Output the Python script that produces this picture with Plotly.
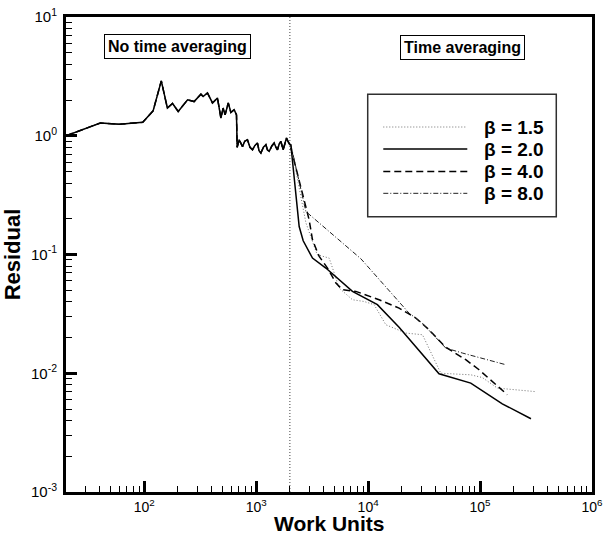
import plotly.graph_objects as go

# ---- data ----
common_x = [20, 40.5, 60, 97, 120, 142, 161, 179, 201, 244, 279, 321, 336, 367, 407, 451,
            484, 507, 528, 563, 594, 636, 667, 676, 705, 730, 755, 790, 836, 880, 927, 975,
            1027, 1060, 1102, 1160, 1221, 1260, 1307, 1380, 1448, 1500, 1550, 1610, 1662,
            1742, 1800, 1865, 1920, 2000]
common_y = [1.0, 1.28, 1.25, 1.30, 1.62, 2.9, 1.71, 1.87, 1.60, 2.01, 1.94, 2.24, 2.14, 2.29,
            1.89, 2.08, 1.41, 1.71, 1.50, 1.89, 1.57, 1.66, 1.50, 0.80, 0.925, 0.86, 0.81,
            0.90, 0.925, 0.80, 0.762, 0.83, 0.868, 0.75, 0.715, 0.80, 0.84, 0.76, 0.738,
            0.82, 0.868, 0.80, 0.762, 0.86, 0.895, 0.762, 0.85, 0.956, 0.90, 0.84]

b15_x = [2040, 2780, 3509, 4488, 4970, 5505, 7244, 9210, 11320, 14400, 21700, 30600,
         44600, 82600, 104800, 142800, 314000]
b15_y = [0.84, 0.185, 0.0995, 0.0933, 0.0702, 0.0522, 0.0416, 0.0402, 0.0378, 0.0256,
         0.0218, 0.0211, 0.0100, 0.0097, 0.0092, 0.0075, 0.0070]

b20_x = [2040, 2421, 2630, 3184, 4190, 7244, 12100, 18900, 43000, 82600, 158000, 285000]
b20_y = [0.84, 0.172, 0.1305, 0.0933, 0.0769, 0.0489, 0.0378, 0.0244, 0.0099, 0.00826,
         0.00553, 0.00414]

b40_x = [2094, 2972, 3185, 3654, 4335, 5156, 5908, 7767, 12530, 18900, 26670, 35060,
         48700, 74500, 98000, 138000, 175000]
b40_y = [0.719, 0.196, 0.133, 0.0964, 0.0769, 0.0575, 0.0505, 0.0489, 0.0416, 0.0354,
         0.0292, 0.0232, 0.0167, 0.013, 0.0107, 0.0080, 0.0066]

b80_x = [2040, 2780, 8610, 23200, 30300, 49400, 69500, 169800]
b80_y = [0.84, 0.230, 0.0921, 0.0321, 0.0266, 0.0163, 0.0148, 0.0118]

switch_x = [2000, 2000]
switch_y = [1e-3, 1e1]

labels = ["β = 1.5", "β = 2.0", "β = 4.0", "β = 8.0"]

x_major_exp = [2, 3, 4, 5, 6]
y_major_exp = [-3, -2, -1, 0, 1]
x_major = [10.0 ** e for e in x_major_exp]
y_major = [10.0 ** e for e in y_major_exp]
x_major_text = ["10<sup>%d</sup>" % e for e in x_major_exp]
y_major_text = ["10<sup>%d</sup>" % e for e in y_major_exp]
x_minor = [m * 10.0 ** e for e in [1, 2, 3, 4, 5] for m in range(2, 10) if m * 10.0 ** e >= 20]
y_minor = [m * 10.0 ** e for e in [-3, -2, -1, 0] for m in range(2, 10)]

X_RANGE = [1.30103, 6]
Y_RANGE = [-3, 1]

FONT = "Liberation Sans, Arial, Helvetica, sans-serif"

styles = {
    "β = 1.5": dict(color="#707070", width=1, dash="1px,2px"),
    "β = 2.0": dict(color="black", width=1.5, dash="solid"),
    "β = 4.0": dict(color="black", width=1.5, dash="7px,4px"),
    "β = 8.0": dict(color="#202020", width=1, dash="5px,2px,1px,2px"),
}
series = {
    "β = 1.5": (b15_x, b15_y),
    "β = 2.0": (b20_x, b20_y),
    "β = 4.0": (b40_x, b40_y),
    "β = 8.0": (b80_x, b80_y),
}

fig = go.Figure()

fig.add_trace(go.Scatter(x=switch_x, y=switch_y, mode="lines", showlegend=False,
                         line=dict(color="#404040", width=1, dash="1px,2px"),
                         hoverinfo="skip"))

for name in ["β = 1.5", "β = 4.0", "β = 8.0", "β = 2.0"]:
    bx, by = series[name]
    fig.add_trace(go.Scatter(x=common_x + bx, y=common_y + by, mode="lines",
                             name=name, showlegend=False, line=styles[name]))

# invisible trace to make the minor-tick overlay axes render
fig.add_trace(go.Scatter(x=[100], y=[1], xaxis="x2", yaxis="y2", mode="markers",
                         marker=dict(opacity=0), showlegend=False, hoverinfo="skip"))

# ---- manual legend (box with long line samples) ----
L_x0, L_x1, L_y0, L_y1 = 0.5736, 0.9321, 0.5796, 0.8373
fig.add_shape(type="rect", xref="paper", yref="paper", x0=L_x0, x1=L_x1, y0=L_y0, y1=L_y1,
              line=dict(color="#303030", width=1.5), fillcolor="white", layer="above")
row_y = [0.7684, 0.7221, 0.6747, 0.6288]
for name, ry in zip(labels, row_y):
    fig.add_shape(type="line", xref="paper", yref="paper", x0=0.6032, x1=0.7629,
                  y0=ry, y1=ry, line=styles[name], layer="above")
    fig.add_annotation(xref="paper", yref="paper", x=0.7903, y=ry, text="<b>" + name + "</b>",
                       showarrow=False, xanchor="left", yanchor="middle",
                       font=dict(family=FONT, size=19, color="black"))

# ---- boxed region labels ----
for txt, ax_, ay_ in [("No time averaging", 0.2129, 0.9381), ("Time averaging", 0.7534, 0.9368)]:
    fig.add_annotation(xref="paper", yref="paper", x=ax_, y=ay_, text="<b>" + txt + "</b>",
                       showarrow=False, xanchor="center", yanchor="middle",
                       bordercolor="black", borderwidth=1, borderpad=3, bgcolor="white",
                       font=dict(family=FONT, size=16, color="black"))

# ---- x axis title (placed below the tick labels) ----
fig.add_annotation(xref="paper", yref="paper", x=0.5, y=-0.067, text="<b>Work Units</b>",
                   showarrow=False, xanchor="center", yanchor="middle",
                   font=dict(family=FONT, size=21, color="black"))

axis_common = dict(
    type="log", showline=True, linecolor="black", linewidth=3, mirror=True,
    showgrid=False, zeroline=False, ticks="inside", ticklen=11, tickwidth=2.5,
    tickcolor="black", automargin=False,
    tickfont=dict(family=FONT, size=14, color="black"),
)
minor_common = dict(
    type="log", showline=False, showgrid=False, zeroline=False, ticks="inside",
    ticklen=6, tickwidth=1, tickcolor="black", showticklabels=False, automargin=False,
)

fig.update_layout(
    width=606, height=536,
    margin=dict(l=66, r=14, t=17, b=44),
    paper_bgcolor="white", plot_bgcolor="white",
    font=dict(family=FONT, color="black"),
    showlegend=False,
    xaxis=dict(axis_common, range=X_RANGE, tickvals=x_major, ticktext=x_major_text,
               ticklabelstandoff=0),
    yaxis=dict(axis_common, range=Y_RANGE, tickvals=y_major, ticktext=y_major_text,
               ticklabelstandoff=3, tickfont=dict(family=FONT, size=15, color="black"),
               title=dict(text="<b>Residual</b>", standoff=5,
                          font=dict(family=FONT, size=22, color="black"))),
    xaxis2=dict(minor_common, range=X_RANGE, tickvals=x_minor, overlaying="x",
                anchor="y2", side="bottom"),
    yaxis2=dict(minor_common, range=Y_RANGE, tickvals=y_minor, overlaying="y",
                anchor="x2", side="left"),
)

fig.write_html("out.html")
